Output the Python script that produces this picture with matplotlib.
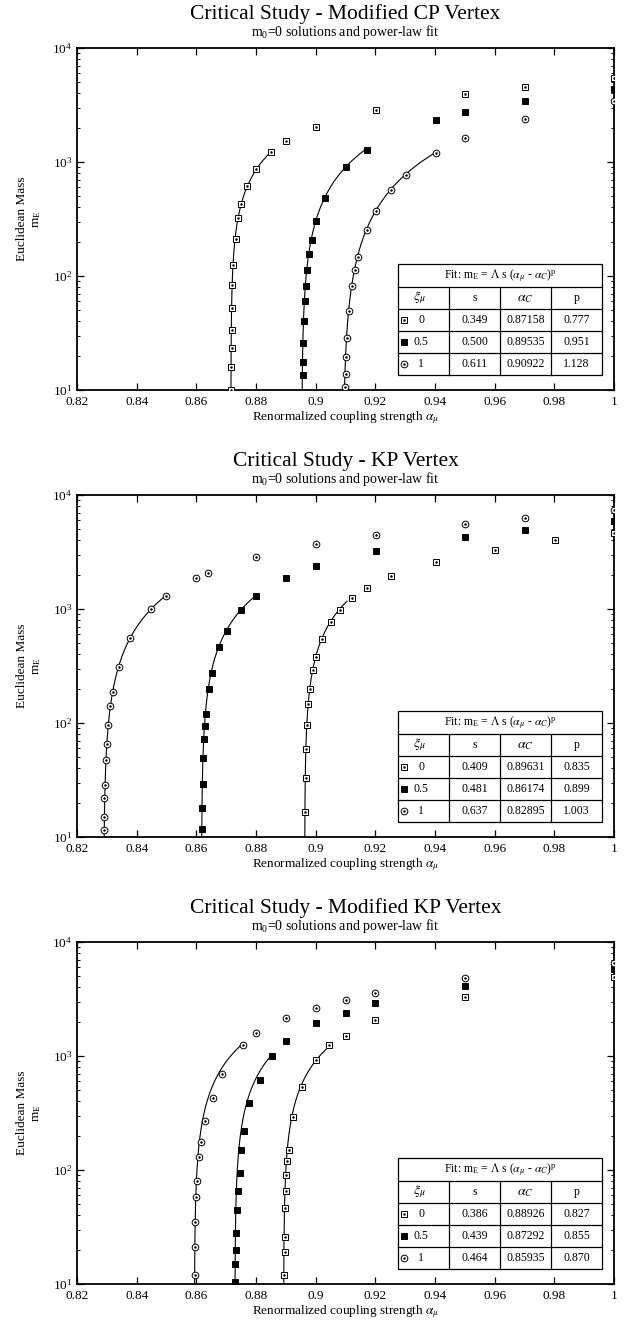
import numpy as np
import matplotlib
matplotlib.use("Agg")
import matplotlib.pyplot as plt
from matplotlib.ticker import FixedLocator, FixedFormatter, LogLocator, NullFormatter

plt.rcParams['font.family'] = ['Liberation Serif', 'DejaVu Serif']
plt.rcParams['mathtext.fontset'] = 'stix'

LAMBDA = 1.0e5
XI_LABELS = ['0', '0.5', '1']
X_TICKS = [0.82, 0.84, 0.86, 0.88, 0.90, 0.92, 0.94, 0.96, 0.98, 1.0]

# ----------- Modified CP vertex -----------
CP_A0 = [0.8717, 0.8717, 0.8718, 0.8718, 0.8719, 0.8720, 0.8722, 0.8732, 0.8741, 0.8751,
         0.8770, 0.8801, 0.8850, 0.8901, 0.9000, 0.9203, 0.9502, 0.9702, 1.0]
CP_M0 = [10.1, 15.8, 23.2, 33.6, 52, 83, 125, 211, 321, 430,
         616, 863, 1231, 1530, 2023, 2870, 3935, 4590, 5470]
CP_A1 = [0.8958, 0.8958, 0.8958, 0.8961, 0.8965, 0.8967, 0.8970, 0.8977, 0.8987, 0.9000,
         0.9030, 0.9101, 0.9172, 0.9403, 0.9502, 0.9702, 1.0]
CP_M1 = [13.5, 17.7, 26, 40, 60, 82, 112, 155, 206, 304,
         480, 902, 1264, 2313, 2735, 3415, 4325]
CP_A2 = [0.9098, 0.9100, 0.9102, 0.9106, 0.9113, 0.9123, 0.9132, 0.9143, 0.9172, 0.9202,
         0.9253, 0.9302, 0.9403, 0.9502, 0.9702, 1.0]
CP_M2 = [10.7, 13.7, 19.6, 28.4, 49, 82, 112.5, 147, 255, 369,
         564, 774, 1197, 1619, 2395, 3415]
CP_S = [0.349, 0.500, 0.611]
CP_AC = [0.87158, 0.89535, 0.90922]
CP_P = [0.777, 0.951, 1.128]
CP_FIT_END = [0.8850, 0.9168, 0.9403]

# ----------- KP vertex -----------
KP_A0 = [0.8965, 0.8967, 0.8969, 0.8972, 0.8975, 0.8981, 0.8992, 0.9001, 0.9022, 0.9051,
         0.9082, 0.9122, 0.9172, 0.9251, 0.9403, 0.9600, 0.9803, 1.0]
KP_M0 = [16.7, 33, 58.6, 96, 148, 198, 290, 377, 542, 768,
         986, 1246, 1538, 1930, 2560, 3325, 3990, 4660]
KP_A1 = [0.8618, 0.8618, 0.8621, 0.8622, 0.8626, 0.8629, 0.8631, 0.8643, 0.8653, 0.8676,
         0.8702, 0.8749, 0.8800, 0.8900, 0.9001, 0.9203, 0.9502, 0.9702, 1.0]
KP_M1 = [11.7, 18, 29, 49.5, 72, 94, 120, 199, 273, 464,
         637, 972, 1297, 1865, 2375, 3195, 4320, 4945, 5970]
KP_A2 = [0.8291, 0.8291, 0.8292, 0.8293, 0.8296, 0.8300, 0.8305, 0.8312, 0.8320, 0.8340,
         0.8379, 0.8449, 0.8499, 0.8599, 0.8639, 0.8801, 0.9000, 0.9203, 0.9502, 0.9702, 1.0]
KP_M2 = [11.5, 15, 22, 28.5, 47, 65.6, 97, 140, 187, 310,
         561, 998, 1309, 1880, 2080, 2847, 3700, 4475, 5585, 6310, 7410]
KP_S = [0.409, 0.481, 0.637]
KP_AC = [0.89631, 0.86174, 0.82895]
KP_P = [0.835, 0.899, 1.003]
KP_FIT_END = [0.9105, 0.8800, 0.8499]

# ----------- Modified KP vertex -----------
MKP_A0 = [0.8895, 0.8896, 0.8897, 0.8898, 0.8900, 0.8902, 0.8905, 0.8910, 0.8925, 0.8955,
          0.9000, 0.9045, 0.9100, 0.9200, 0.9500, 1.0]
MKP_M0 = [12, 19, 26, 46, 65, 90, 120, 150, 290, 540,
          920, 1250, 1500, 2050, 3300, 4900]
MKP_A1 = [0.8730, 0.8730, 0.8732, 0.8733, 0.8735, 0.8740, 0.8745, 0.8750, 0.8760, 0.8775,
          0.8815, 0.8855, 0.8900, 0.9000, 0.9100, 0.9200, 0.9500, 1.0]
MKP_M1 = [10.5, 15, 20, 28, 45, 65, 95, 150, 220, 390,
          620, 1000, 1350, 1950, 2400, 2900, 4100, 5800]
MKP_A2 = [0.8594, 0.8595, 0.8597, 0.8600, 0.8602, 0.8610, 0.8615, 0.8630, 0.8655, 0.8685,
          0.8755, 0.8800, 0.8900, 0.9000, 0.9100, 0.9200, 0.9500, 1.0]
MKP_M2 = [12, 21, 35, 58, 80, 130, 175, 270, 430, 700,
          1250, 1600, 2150, 2650, 3100, 3600, 4800, 6500]
MKP_S = [0.386, 0.439, 0.464]
MKP_AC = [0.88926, 0.87292, 0.85935]
MKP_P = [0.827, 0.855, 0.870]
MKP_FIT_END = [0.9045, 0.8855, 0.8755]


def mark(ax, x, y, kind, **kw):
    if kind == 0:
        ax.plot(x, y, 's', ms=4.8, mfc='white', mec='black', mew=0.7, ls='none', **kw)
        ax.plot(x, y, '.', ms=1.6, color='black', ls='none', **kw)
    elif kind == 1:
        ax.plot(x, y, 's', ms=4.8, mfc='black', mec='black', mew=0.7, ls='none', **kw)
    else:
        ax.plot(x, y, 'o', ms=4.8, mfc='white', mec='black', mew=0.7, ls='none', **kw)
        ax.plot(x, y, '.', ms=1.6, color='black', ls='none', **kw)


def fit_table(ax, s_vals, ac_vals, p_vals):
    xs = [0.5978, 0.6927, 0.7877, 0.8827, 0.9777]
    ys = [0.3684, 0.3012, 0.2368, 0.1725, 0.1082, 0.0439]
    tr = ax.transAxes
    ax.add_patch(plt.Rectangle((xs[0], ys[-1]), xs[-1] - xs[0], ys[0] - ys[-1],
                               transform=tr, facecolor='white', edgecolor='black',
                               lw=0.9, zorder=5))
    for yy in ys[1:-1]:
        ax.plot([xs[0], xs[-1]], [yy, yy], color='black', lw=0.9, transform=tr, zorder=6)
    for xx in xs[1:-1]:
        ax.plot([xx, xx], [ys[1], ys[-1]], color='black', lw=0.9, transform=tr, zorder=6)
    fs = 8.5
    ax.text((xs[0] + xs[-1]) / 2, (ys[0] + ys[1]) / 2,
            r'Fit: $\mathregular{m_E}$ = $\Lambda$ s ($\alpha_\mu$ - $\alpha_C$)$^\mathregular{p}$',
            transform=tr, ha='center', va='center', fontsize=fs, zorder=7)
    hy = (ys[1] + ys[2]) / 2
    ax.text(0.637, hy, r'$\xi_\mu$', transform=tr, ha='center', va='center', fontsize=10, zorder=7)
    ax.text((xs[1] + xs[2]) / 2, hy, 's', transform=tr, ha='center', va='center', fontsize=fs, zorder=7)
    ax.text((xs[2] + xs[3]) / 2, hy, r'$\alpha_C$', transform=tr, ha='center', va='center', fontsize=10, zorder=7)
    ax.text((xs[3] + xs[4]) / 2, hy, 'p', transform=tr, ha='center', va='center', fontsize=fs, zorder=7)
    for i in range(3):
        ry = (ys[i + 2] + ys[i + 3]) / 2
        mark(ax, [0.609], [ry], i, transform=tr, clip_on=False, zorder=7)
        ax.text(0.6406, ry, XI_LABELS[i], transform=tr, ha='center', va='center', fontsize=fs, zorder=7)
        ax.text((xs[1] + xs[2]) / 2, ry, f'{s_vals[i]:.3f}', transform=tr,
                ha='center', va='center', fontsize=fs, zorder=7)
        ax.text((xs[2] + xs[3]) / 2, ry, f'{ac_vals[i]:.5f}', transform=tr,
                ha='center', va='center', fontsize=fs, zorder=7)
        ax.text((xs[3] + xs[4]) / 2, ry, f'{p_vals[i]:.3f}', transform=tr,
                ha='center', va='center', fontsize=fs, zorder=7)


def draw_panel(ax, title, series, s_vals, ac_vals, p_vals, fit_end):
    for i, (a, m) in enumerate(series):
        s, ac, p = s_vals[i], ac_vals[i], p_vals[i]
        d0 = (9.0 / (LAMBDA * s)) ** (1.0 / p)
        d = np.geomspace(d0, fit_end[i] - ac, 300)
        ax.plot(ac + d, LAMBDA * s * d ** p, color='black', lw=0.8, zorder=2)
    for i, (a, m) in enumerate(series):
        mark(ax, a, m, i, zorder=3)

    ax.set_yscale('log')
    ax.set_xlim(0.82, 1.0)
    ax.set_ylim(10, 1e4)
    ax.xaxis.set_major_locator(FixedLocator(X_TICKS))
    ax.xaxis.set_major_formatter(FixedFormatter([f'{t:g}' for t in X_TICKS]))
    ax.yaxis.set_major_locator(LogLocator(base=10))
    ax.yaxis.set_minor_locator(LogLocator(base=10, subs=np.arange(2, 10)))
    ax.yaxis.set_minor_formatter(NullFormatter())
    ax.tick_params(which='both', direction='in', top=True, right=True, labelsize=9.5)
    ax.tick_params(which='major', length=5, width=0.9)
    ax.tick_params(which='minor', length=2.5, width=0.7)
    ax.tick_params(axis='x', pad=4)
    for sp in ax.spines.values():
        sp.set_linewidth(1.3)

    ax.set_xlabel(r'Renormalized coupling strength $\alpha_\mu$', fontsize=9.5, labelpad=1)
    ax.set_ylabel('Euclidean Mass\n' + r'$\mathregular{m_E}$', fontsize=9.5, labelpad=7,
                  multialignment='center')
    ax.text(0.5, 1 + 29 / 342, title, transform=ax.transAxes, ha='center', va='baseline',
            fontsize=15.5)
    ax.text(0.5, 1 + 12 / 342, r'$\mathregular{m_0}$=0 solutions and power-law fit',
            transform=ax.transAxes, ha='center', va='baseline', fontsize=10)
    fit_table(ax, s_vals, ac_vals, p_vals)


fig = plt.figure(figsize=(6.36, 13.34), dpi=100)
H = 1334.0
left, width = 77 / 636, 537 / 636
panels = [
    (390, 'Critical Study - Modified CP Vertex',
     [(CP_A0, CP_M0), (CP_A1, CP_M1), (CP_A2, CP_M2)], CP_S, CP_AC, CP_P, CP_FIT_END),
    (837, 'Critical Study - KP Vertex',
     [(KP_A0, KP_M0), (KP_A1, KP_M1), (KP_A2, KP_M2)], KP_S, KP_AC, KP_P, KP_FIT_END),
    (1284, 'Critical Study - Modified KP Vertex',
     [(MKP_A0, MKP_M0), (MKP_A1, MKP_M1), (MKP_A2, MKP_M2)], MKP_S, MKP_AC, MKP_P, MKP_FIT_END),
]
for bottom_px, title, series, s_vals, ac_vals, p_vals, fit_end in panels:
    ax = fig.add_axes([left, 1 - bottom_px / H, width, 342 / H])
    draw_panel(ax, title, series, s_vals, ac_vals, p_vals, fit_end)

fig.savefig('out.png', dpi=100)
